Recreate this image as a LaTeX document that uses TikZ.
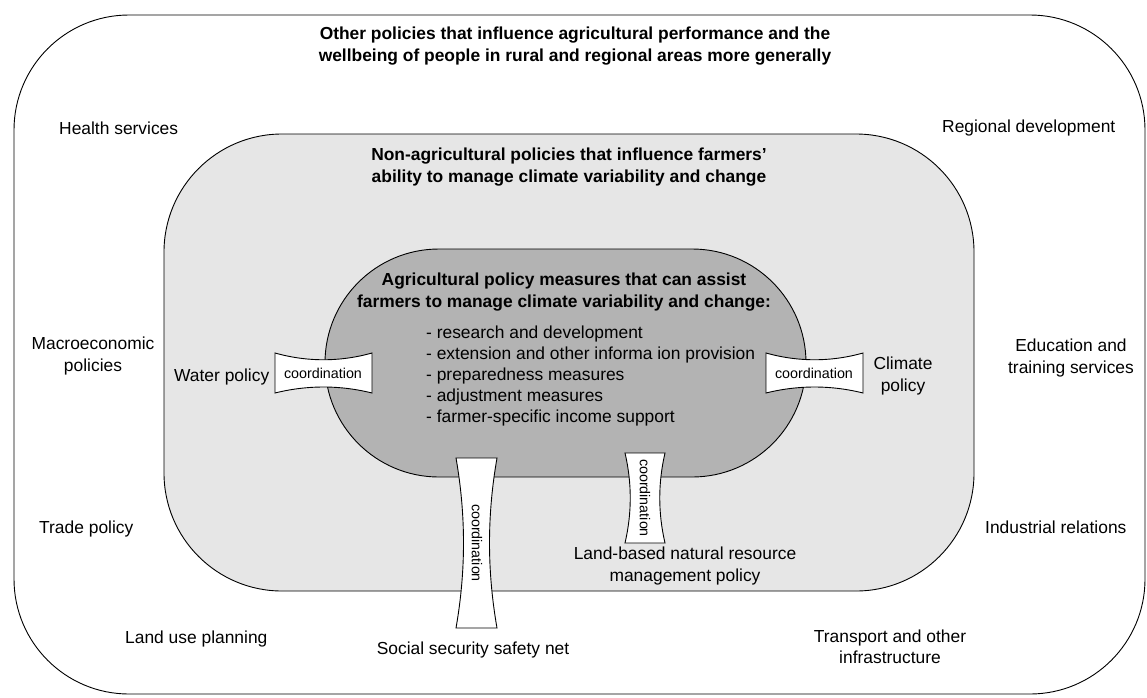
\documentclass[tikz,border=0pt]{standalone}
\usepackage{fontspec}
\setmainfont{Liberation Sans}
\begin{document}
\begin{tikzpicture}[x=1pt,y=-1pt,
  lbl/.style={font=\fontsize{17.4}{21.5}\selectfont, inner sep=0pt, align=center},
  lbll/.style={font=\fontsize{17.4}{21}\selectfont, inner sep=0pt, align=left},
  ttl/.style={font=\fontsize{17.4}{22}\selectfont\bfseries, inner sep=0pt, align=center},
  coordtxt/.style={font=\fontsize{14.3}{16}\selectfont, inner sep=0pt},
  region/.style={draw=black, line width=0.9pt},
  connector/.style={draw=black, fill=white, line width=0.9pt}]
\useasboundingbox (0,0) rectangle (1147,697);
\definecolor{midgray}{HTML}{E6E6E6}
\definecolor{innergray}{HTML}{B3B3B3}

% regions
\path[region, fill=white, rounded corners=115pt] (14,15) rectangle (1145,694);
\path[region, fill=midgray, rounded corners=118pt] (164,134) rectangle (974,591);
\path[region, fill=innergray, rounded corners=113.9pt] (325,249) rectangle (806,477);

% titles
\node[ttl] (outerTitle) at (575,46) {Other policies that influence agricultural performance and the\\wellbeing of people in rural and regional areas more generally};
\node[ttl] (midTitle) at (569,167) {Non-agricultural policies that influence farmers'\\ability to manage climate variability and change};
\node[ttl] (innerTitle) at (564,292) {Agricultural policy measures that can assist\\farmers to manage climate variability and change:};
\node[lbll, anchor=west] (measures) at (426,376) {- research and development\\- extension and other informa ion provision\\- preparedness measures\\- adjustment measures\\- farmer-specific income support};

% outer labels
\node[lbl, anchor=base west] (health) at (59,134) {Health services};
\node[lbl, anchor=base west] (regional) at (942,132) {Regional development};
\node[lbl] (macro) at (93,356) {Macroeconomic\\policies};
\node[lbl] (education) at (1071,358) {Education and\\training services};
\node[lbl, anchor=base west] (trade) at (39,533) {Trade policy};
\node[lbl, anchor=base west] (industrial) at (985,533) {Industrial relations};
\node[lbl, anchor=base west] (landuse) at (125,643) {Land use planning};
\node[lbl] (transport) at (890,647) {Transport and other\\infrastructure};

% middle labels
\node[lbl, anchor=base west] (water) at (174,381) {Water policy};
\node[lbl] (climate) at (903,376) {Climate\\policy};
\node[lbl] (landbased) at (685,566) {Land-based natural resource\\management policy};
\node[lbl, anchor=base] (social) at (473,654) {Social security safety net};

% coordination connectors
\path[connector] (275,353) .. controls (307,362) and (340,362) .. (372,353) -- (372,393) .. controls (340,385) and (307,385) .. (275,393) -- cycle;
\node[coordtxt] (coordWater) at (323,373) {coordination};

\path[connector] (766,353) .. controls (798,362) and (831,362) .. (863,353) -- (863,393) .. controls (831,385) and (798,385) .. (766,393) -- cycle;
\node[coordtxt] (coordClimate) at (814,373) {coordination};

\path[connector] (456,458) .. controls (466,515) and (466,571) .. (456,628) -- (497,628) .. controls (487,571) and (487,515) .. (497,458) -- cycle;
\node[coordtxt, rotate=-90] (coordSocial) at (477,543) {coordination};

\path[connector] (625,453) .. controls (632,483) and (632,513) .. (625,543) -- (665,543) .. controls (658,513) and (658,483) .. (665,453) -- cycle;
\node[coordtxt, rotate=-90] (coordLand) at (645,498) {coordination};
\end{tikzpicture}
\end{document}
